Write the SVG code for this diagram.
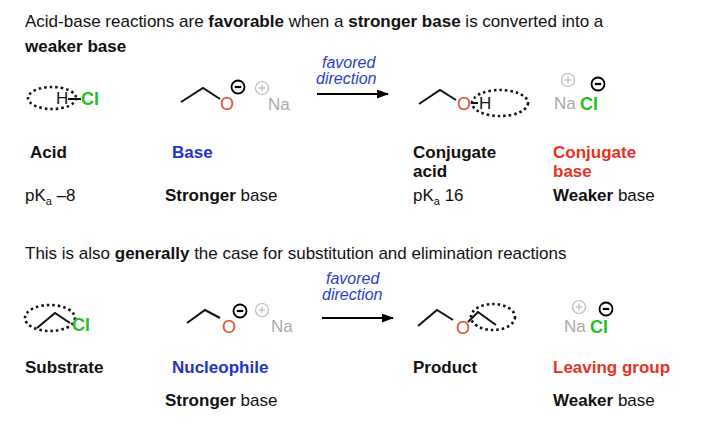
<svg xmlns="http://www.w3.org/2000/svg" width="720" height="431" viewBox="0 0 720 431">
<defs>
<marker id="ah" markerWidth="12" markerHeight="9" refX="11" refY="4.5" orient="auto" markerUnits="userSpaceOnUse"><path d="M0,0 L12,4.5 L0,9 z" fill="#000"/></marker>
<g id="minus"><circle r="6.5" fill="#fff" stroke="#000" stroke-width="1.8"/><line x1="-3.2" y1="0" x2="3.2" y2="0" stroke="#000" stroke-width="2.2"/></g>
<g id="plus"><circle r="6.5" fill="none" stroke="#bbb" stroke-width="1.2"/><line x1="-3.2" y1="0" x2="3.2" y2="0" stroke="#bbb" stroke-width="1.2"/><line x1="0" y1="-3.2" x2="0" y2="3.2" stroke="#bbb" stroke-width="1.2"/></g>
</defs>
<style>
text{font-family:"Liberation Sans",Arial,sans-serif;font-size:17px;fill:#111}
.b{font-weight:bold}
.blue{fill:#2233cc}
.red{fill:#e8321e}
.it{font-style:italic;fill:#2a3fc8;font-size:16px}
.cl{fill:#22c022;font-weight:bold;font-size:18px}
.o{fill:#e0503a;font-size:18px}
.na{fill:#aaa;font-size:17px}
.bond{fill:none;stroke:#111;stroke-width:2}
.dot{fill:none;stroke:#111;stroke-width:2.6;stroke-dasharray:2.5 3}
</style>
<rect width="720" height="431" fill="#fff"/>
<text x="25" y="27">Acid-base reactions are <tspan class="b">favorable</tspan> when a <tspan class="b">stronger base</tspan> is converted into a</text>
<text x="25" y="52" class="b">weaker base</text>
<text x="25" y="259">This is also <tspan class="b">generally</tspan> the case for substitution and elimination reactions</text>

<g id="connectors">
<line x1="317" y1="94" x2="388" y2="94" stroke="#000" stroke-width="2.2" marker-end="url(#ah)"/>
<line x1="322" y1="318" x2="393" y2="318" stroke="#000" stroke-width="2.2" marker-end="url(#ah)"/>
</g>
<g id="arrowlabel1"><text x="322" y="68" class="it">favored</text><text x="316" y="84" class="it">direction</text></g>
<g id="arrowlabel2"><text x="326" y="284" class="it">favored</text><text x="322" y="300" class="it">direction</text></g>

<g id="hcl">
<ellipse cx="52" cy="98" rx="24" ry="11" class="dot"/>
<text x="56" y="104">H</text><line x1="68" y1="99" x2="81" y2="99" class="bond"/>
<text x="81" y="105" class="cl">Cl</text>
</g>
<g id="ethoxide1">
<polyline points="181,102 203,88 220,99" class="bond"/>
<text x="220" y="110" class="o">O</text>
<use href="#minus" x="238" y="87"/><use href="#plus" x="262" y="88"/>
<text x="268" y="110" class="na">Na</text>
</g>
<g id="ethanol">
<polyline points="419,104 440,90 456,100" class="bond"/>
<text x="457" y="110" class="o">O</text>
<line x1="471" y1="103" x2="478" y2="103" class="bond"/>
<text x="479" y="109">H</text>
<ellipse cx="500" cy="103" rx="28" ry="13" class="dot"/>
</g>
<g id="nacl1">
<text x="554" y="109" class="na">Na</text><use href="#plus" x="568" y="80"/>
<text x="580" y="110" class="cl">Cl</text><use href="#minus" x="598" y="84"/>
</g>

<g id="labels1">
<text x="30" y="158" class="b">Acid</text>
<text x="172" y="158" class="b blue">Base</text>
<text x="413" y="158" class="b">Conjugate</text><text x="413" y="177" class="b">acid</text>
<text x="553" y="158" class="b red">Conjugate</text><text x="553" y="177" class="b red">base</text>
<text x="25" y="201">pK<tspan font-size="11" dy="4">a</tspan><tspan dy="-4"> –8</tspan></text>
<text x="165" y="201"><tspan class="b">Stronger</tspan> base</text>
<text x="413" y="201">pK<tspan font-size="11" dy="4">a</tspan><tspan dy="-4"> 16</tspan></text>
<text x="553" y="201"><tspan class="b">Weaker</tspan> base</text>
</g>

<g id="substrate">
<ellipse cx="50" cy="318" rx="25" ry="13" class="dot"/>
<polyline points="37,328 55,313 70,323" class="bond"/>
<text x="72" y="331" class="cl">Cl</text>
</g>
<g id="ethoxide2">
<polyline points="187,323 205,310 220,318" class="bond"/>
<text x="222" y="333" class="o">O</text>
<use href="#minus" x="240" y="311"/><use href="#plus" x="262" y="310"/>
<text x="271" y="332" class="na">Na</text>
</g>
<g id="ether">
<polyline points="418,326 437,310 453,320" class="bond"/>
<text x="456" y="334" class="o">O</text>
<polyline points="468,322 478,312 496,325" class="bond"/>
<ellipse cx="493" cy="317" rx="22" ry="13" class="dot"/>
</g>
<g id="nacl2">
<text x="564" y="332" class="na">Na</text><use href="#plus" x="579" y="307"/>
<text x="590" y="333" class="cl">Cl</text><use href="#minus" x="606" y="309"/>
</g>

<g id="labels2">
<text x="25" y="373" class="b">Substrate</text>
<text x="172" y="373" class="b blue">Nucleophile</text>
<text x="413" y="373" class="b">Product</text>
<text x="553" y="373" class="b red">Leaving group</text>
<text x="165" y="406"><tspan class="b">Stronger</tspan> base</text>
<text x="553" y="406"><tspan class="b">Weaker</tspan> base</text>
</g>
</svg>
